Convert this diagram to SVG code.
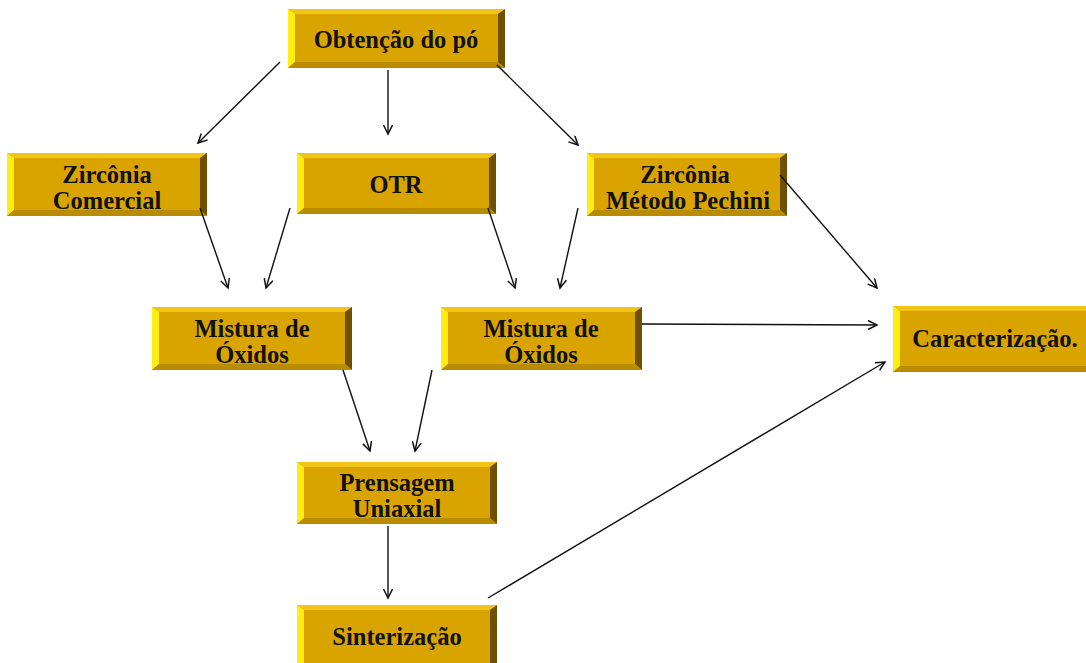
<svg xmlns="http://www.w3.org/2000/svg" width="1086" height="663" viewBox="0 0 1086 663">
<defs>
<style>
.face{fill:#D9A400}
.bt{fill:#F2C418}
.bl{fill:#FFEE10}
.br{fill:#6E5000}
.bb{fill:#B98C00}
text{font-family:"Liberation Serif",serif;font-weight:bold;font-size:24.5px;fill:#111;text-anchor:middle}
.cn line{stroke:#111;stroke-width:1.4;fill:none;marker-end:url(#ah)}
</style>
<marker id="ah" markerWidth="12" markerHeight="12" refX="10" refY="5" orient="auto" markerUnits="userSpaceOnUse">
<path d="M1,0.5 L10,5 L1,9.5" fill="none" stroke="#111" stroke-width="1.5"/>
</marker>
</defs>
<rect width="1086" height="663" fill="#fff"/>

<g id="n-obtencao">
<rect class="face" x="288" y="9" width="217" height="59"/>
<polygon class="bt" points="288,9 505,9 498,14 295,14"/>
<polygon class="bl" points="288,9 295,14 295,62 288,68"/>
<polygon class="br" points="505,9 505,68 498,62 498,14"/>
<polygon class="bb" points="288,68 295,62 498,62 505,68"/>
<text x="396" y="48">Obtenção do pó</text>
</g>

<g id="n-zirc-comercial">
<rect class="face" x="7" y="153" width="200" height="63"/>
<polygon class="bt" points="7,153 207,153 200,158 14,158"/>
<polygon class="bl" points="7,153 14,158 14,210 7,216"/>
<polygon class="br" points="207,153 207,216 200,210 200,158"/>
<polygon class="bb" points="7,216 14,210 200,210 207,216"/>
<text x="107" y="183">Zircônia</text>
<text x="107" y="209">Comercial</text>
</g>

<g id="n-otr">
<rect class="face" x="297" y="153" width="199" height="61"/>
<polygon class="bt" points="297,153 496,153 489,158 304,158"/>
<polygon class="bl" points="297,153 304,158 304,208 297,214"/>
<polygon class="br" points="496,153 496,214 489,208 489,158"/>
<polygon class="bb" points="297,214 304,208 489,208 496,214"/>
<text x="396" y="193">OTR</text>
</g>

<g id="n-zirc-pechini">
<rect class="face" x="587" y="153" width="200" height="63"/>
<polygon class="bt" points="587,153 787,153 780,158 594,158"/>
<polygon class="bl" points="587,153 594,158 594,210 587,216"/>
<polygon class="br" points="787,153 787,216 780,210 780,158"/>
<polygon class="bb" points="587,216 594,210 780,210 787,216"/>
<text x="685" y="183">Zircônia</text>
<text x="688" y="209">Método Pechini</text>
</g>

<g id="n-mistura-1">
<rect class="face" x="152" y="307" width="200" height="63"/>
<polygon class="bt" points="152,307 352,307 345,312 159,312"/>
<polygon class="bl" points="152,307 159,312 159,364 152,370"/>
<polygon class="br" points="352,307 352,370 345,364 345,312"/>
<polygon class="bb" points="152,370 159,364 345,364 352,370"/>
<text x="252" y="337">Mistura de</text>
<text x="252" y="363">Óxidos</text>
</g>

<g id="n-mistura-2">
<rect class="face" x="441" y="307" width="201" height="63"/>
<polygon class="bt" points="441,307 642,307 635,312 448,312"/>
<polygon class="bl" points="441,307 448,312 448,364 441,370"/>
<polygon class="br" points="642,307 642,370 635,364 635,312"/>
<polygon class="bb" points="441,370 448,364 635,364 642,370"/>
<text x="541" y="337">Mistura de</text>
<text x="541" y="363">Óxidos</text>
</g>

<g id="n-caracterizacao">
<rect class="face" x="893" y="306" width="200" height="66"/>
<polygon class="bt" points="893,306 1093,306 1086,311 900,311"/>
<polygon class="bl" points="893,306 900,311 900,366 893,372"/>
<polygon class="bb" points="893,372 900,366 1093,366 1093,372"/>
<text x="995" y="347">Caracterização.</text>
</g>

<g id="n-prensagem">
<rect class="face" x="297" y="462" width="200" height="62"/>
<polygon class="bt" points="297,462 497,462 490,467 304,467"/>
<polygon class="bl" points="297,462 304,467 304,518 297,524"/>
<polygon class="br" points="497,462 497,524 490,518 490,467"/>
<polygon class="bb" points="297,524 304,518 490,518 497,524"/>
<text x="397" y="491">Prensagem</text>
<text x="397" y="517">Uniaxial</text>
</g>

<g id="n-sinterizacao">
<rect class="face" x="297" y="605" width="200" height="63"/>
<polygon class="bt" points="297,605 497,605 490,610 304,610"/>
<polygon class="bl" points="297,605 304,610 304,668 297,668"/>
<polygon class="br" points="497,605 497,668 490,668 490,610"/>
<text x="397" y="645">Sinterização</text>
</g>

<g id="connectors" class="cn">
<line x1="280" y1="62" x2="198" y2="143"/>
<line x1="388" y1="70" x2="388" y2="134"/>
<line x1="497" y1="65" x2="578" y2="145"/>
<line x1="200" y1="208" x2="228" y2="288"/>
<line x1="290" y1="208" x2="266" y2="288"/>
<line x1="488" y1="208" x2="515" y2="288"/>
<line x1="578" y1="208" x2="560" y2="288"/>
<line x1="780" y1="175" x2="877" y2="288"/>
<line x1="642" y1="324" x2="877" y2="325"/>
<line x1="343" y1="370" x2="370" y2="451"/>
<line x1="432" y1="370" x2="415" y2="451"/>
<line x1="388" y1="526" x2="388" y2="598"/>
<line x1="488" y1="598" x2="885" y2="362"/>
</g>
</svg>
